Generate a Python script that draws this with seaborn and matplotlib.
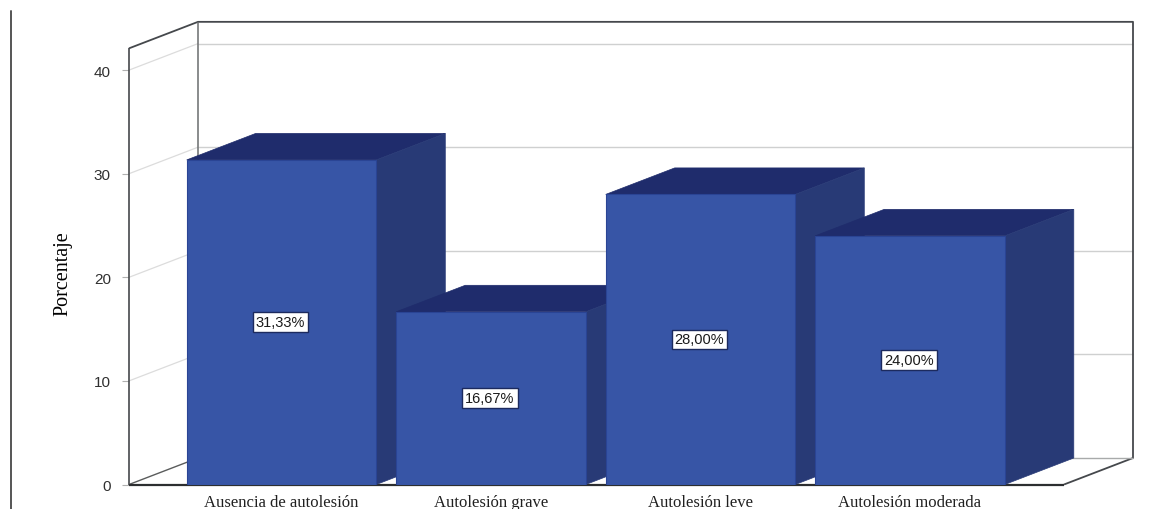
import matplotlib
matplotlib.use("Agg")
import matplotlib.pyplot as plt
from matplotlib.patches import Polygon
from matplotlib.lines import Line2D
import seaborn as sns
import pandas as pd

categories = ["Ausencia de autolesión", "Autolesión grave", "Autolesión leve", "Autolesión moderada"]
values = [31.33, 16.67, 28.00, 24.00]
labels = ["31,33%", "16,67%", "28,00%", "24,00%"]
y_ticks = [0, 10, 20, 30, 40]

W, H = 1176, 510
FRONT, TOP, SIDE, EDGE = "#3755a6", "#1f2c6c", "#283a76", "#2a4494"
sns.set_theme(style="white")
fig = plt.figure(figsize=(W / 100, H / 100), dpi=100, facecolor="white")

px_x, px_y = 209.5, 10.36          # pixels per category / per percent
left, right, bottom = 129, 1064, 485.5
ymax = 42.1
ax = fig.add_axes([left / W, 1 - bottom / H, (right - left) / W, ymax * px_y / H])
ax.patch.set_visible(False)

df = pd.DataFrame({"cat": categories, "val": values})
sns.barplot(data=df, x="cat", y="val", ax=ax, color=FRONT, saturation=1, width=0.905, zorder=3)

x0 = (left - 281.5) / px_x
x1 = (right - 281.5) / px_x
ax.set_xlim(x0, x1)
ax.set_ylim(0, ymax)
dx, dy = 69 / px_x, 26.5 / px_y    # oblique depth

# walls, floor and grid
line = dict(clip_on=False, solid_capstyle="butt")
dark, grid = "#45484c", "#cfd0d0"
for t in y_ticks[1:]:
    ax.plot([x0, x0 + dx], [t, t + dy], color="#dcdcdc", lw=0.9, zorder=1, **line)
    ax.plot([x0 + dx, x1 + dx], [t + dy, t + dy], color=grid, lw=1, zorder=1, **line)
ax.plot([x0, x0 + dx, x1 + dx, x1 + dx, x1], [ymax, ymax + dy, ymax + dy, dy, 0], color=dark, lw=1.3, zorder=1, **line)
ax.plot([x0 + dx, x0 + dx], [ymax + dy, dy], color="#6a6c6e", lw=1.1, zorder=1, **line)
ax.plot([x0, x0], [0, ymax], color=dark, lw=1.2, zorder=1, **line)
ax.plot([x0, x0 + dx], [0, dy], color="#5a5c5c", lw=1, zorder=1, **line)
ax.plot([x0 + dx, x1 + dx], [dy, dy], color="#a8aaaa", lw=1, zorder=1, **line)
ax.plot([x0, x1], [0, 0], color="#2c2e30", lw=1.6, zorder=2, **line)

# oblique faces of each bar, later bars covering earlier ones
for i, (bar, v, lab) in enumerate(zip(ax.patches, values, labels)):
    z = 3 + i
    a, b = bar.get_x(), bar.get_x() + bar.get_width()
    bar.set_zorder(z + 0.2)
    bar.set_edgecolor(EDGE)
    bar.set_linewidth(0.8)
    ax.add_patch(Polygon([(a, v), (a + dx, v + dy), (b + dx, v + dy), (b, v)], closed=True,
                         facecolor=TOP, edgecolor=TOP, lw=0.5, zorder=z, clip_on=False))
    ax.add_patch(Polygon([(b, 0), (b + dx, dy), (b + dx, v + dy), (b, v)], closed=True,
                         facecolor=SIDE, edgecolor=SIDE, lw=0.5, zorder=z, clip_on=False))
    ax.text(i - 0.005, v / 2, lab, ha="center", va="center", fontsize=10.5, family="Liberation Sans",
            color="#1a1a1a", zorder=20,
            bbox=dict(boxstyle="square,pad=0.2", facecolor="white", edgecolor="#1c2a5e", lw=1))

for s in ax.spines.values():
    s.set_visible(False)
ax.set_yticks(y_ticks)
ax.set_yticklabels([str(t) for t in y_ticks], family="Liberation Sans", fontsize=11, color="#303030")
ax.tick_params(axis="y", left=True, length=5, width=0.8, color="#b0b0b0", pad=8)
ax.tick_params(axis="x", bottom=False, pad=1)
ax.set_xticks(range(len(categories)))
ax.set_xticklabels(categories, family="Liberation Serif", fontsize=12, color="#202020")
ax.set_xlabel("")
ax.set_ylabel("")
fig.text(63 / W, 1 - 274 / H, "Porcentaje", rotation=90, ha="center", va="center",
         family="Liberation Serif", fontsize=14.5, color="black")

fig.add_artist(Line2D([11 / W, 11 / W], [0, 1 - 12 / H], color="#555555", lw=1.4))
fig.savefig("out.png", dpi=100, facecolor="white")
